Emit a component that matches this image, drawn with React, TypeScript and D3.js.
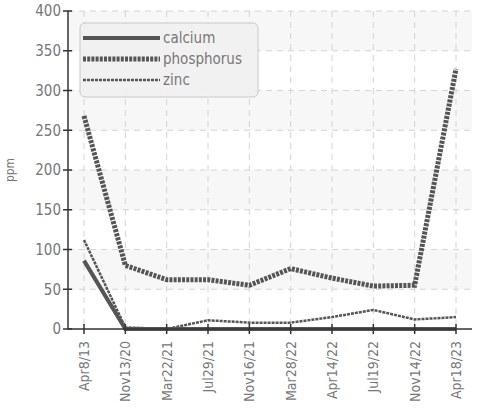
import * as d3 from "d3";
import {useEffect, useRef} from "react";

const dates = ["Apr8/13", "Nov13/20", "Mar22/21", "Jul29/21", "Nov16/21", "Mar28/22", "Apr14/22", "Jul19/22", "Nov14/22", "Apr18/23"];
const calcium = [86, 0, 0, 0, 0, 0, 0, 0, 0, 0];
const phosphorus = [268, 80, 62, 62, 55, 76, 64, 54, 55, 327];
const zinc = [112, 2, 0, 11, 8, 8, 15, 24, 12, 15];
const yTicks = [0, 50, 100, 150, 200, 250, 300, 350, 400];

const series = [
    {name: "calcium", values: calcium, width: 4, dash: "none"},
    {name: "phosphorus", values: phosphorus, width: 5, dash: "3,1.2"},
    {name: "zinc", values: zinc, width: 2.5, dash: "3,1"},
];

const FONT = "'Liberation Sans Narrow', 'DejaVu Sans Condensed', 'Roboto', sans-serif";

export default function App() {
    const ref = useRef<SVGSVGElement>(null);

    useEffect(() => {
        const svg = d3.select(ref.current).html("");
        const left = 68, right = 472, top = 11, bottom = 329;

        const x = d3.scalePoint().domain(dates).range([84, 456]);
        const y = d3.scaleLinear().domain([0, 400]).range([bottom, top]);

        // alternating bands
        for (let i = 0; i < yTicks.length - 1; i++) {
            if (i % 2 === 1) {
                svg.append("rect")
                    .attr("x", left).attr("width", right - left)
                    .attr("y", y(yTicks[i + 1])).attr("height", y(yTicks[i]) - y(yTicks[i + 1]))
                    .attr("fill", "#f7f7f7");
            }
        }

        // grid
        svg.append("g").selectAll("line.h").data(yTicks.slice(1)).join("line")
            .attr("x1", left).attr("x2", right)
            .attr("y1", d => y(d)).attr("y2", d => y(d))
            .attr("stroke", "#d4d4d4").attr("stroke-dasharray", "6,5");
        svg.append("g").selectAll("line.v").data(dates).join("line")
            .attr("x1", d => x(d)!).attr("x2", d => x(d)!)
            .attr("y1", top).attr("y2", bottom)
            .attr("stroke", "#d4d4d4").attr("stroke-dasharray", "6,5");

        // lines
        const line = d3.line<number>()
            .x((_, i) => x(dates[i])!)
            .y(d => y(d));
        series.forEach(s => {
            svg.append("path")
                .attr("d", line(s.values))
                .attr("fill", "none")
                .attr("stroke", "#555")
                .attr("stroke-width", s.width)
                .attr("stroke-dasharray", s.dash);
        });

        // axes
        svg.append("line").attr("x1", left).attr("x2", left).attr("y1", top).attr("y2", bottom)
            .attr("stroke", "#333").attr("stroke-width", 1.5);
        svg.append("line").attr("x1", left).attr("x2", right).attr("y1", bottom).attr("y2", bottom)
            .attr("stroke", "#333").attr("stroke-width", 1.5);

        svg.append("g").selectAll("line").data(yTicks).join("line")
            .attr("x1", left - 5).attr("x2", left + 4)
            .attr("y1", d => y(d)).attr("y2", d => y(d))
            .attr("stroke", "#333").attr("stroke-width", 1.5);
        svg.append("g").selectAll("text").data(yTicks).join("text")
            .attr("x", left - 7).attr("y", d => y(d))
            .attr("dy", "0.36em").attr("text-anchor", "end")
            .attr("font-family", FONT).attr("font-size", 15).attr("fill", "#777")
            .text(d => d);

        svg.append("g").selectAll("line").data(dates).join("line")
            .attr("x1", d => x(d)!).attr("x2", d => x(d)!)
            .attr("y1", bottom - 5).attr("y2", bottom + 5)
            .attr("stroke", "#333").attr("stroke-width", 1.5);
        svg.append("g").selectAll("text").data(dates).join("text")
            .attr("transform", d => `translate(${x(d)! + 5},${bottom + 12}) rotate(-90)`)
            .attr("text-anchor", "end")
            .attr("font-family", FONT).attr("font-size", 14).attr("fill", "#777")
            .text(d => d);

        svg.append("text")
            .attr("transform", `translate(14,${(top + bottom) / 2}) rotate(-90)`)
            .attr("text-anchor", "middle")
            .attr("font-family", FONT).attr("font-size", 12).attr("fill", "#777")
            .text("ppm");

        // legend
        const lg = svg.append("g");
        lg.append("rect")
            .attr("x", 80).attr("y", 23).attr("width", 178).attr("height", 74)
            .attr("rx", 5).attr("fill", "#f0f0f0").attr("fill-opacity", 0.95)
            .attr("stroke", "#c8c8c8");
        series.forEach((s, i) => {
            const yy = 38 + i * 21;
            lg.append("line")
                .attr("x1", 83).attr("x2", 160).attr("y1", yy).attr("y2", yy)
                .attr("stroke", "#555").attr("stroke-width", s.width)
                .attr("stroke-dasharray", s.dash);
            lg.append("text")
                .attr("x", 163).attr("y", yy).attr("dy", "0.36em")
                .attr("font-family", FONT).attr("font-size", 15).attr("fill", "#777")
                .text(s.name);
        });
    }, []);

    return (
        <svg ref={ref} width={478} height={409}
             style={{position: "fixed", left: 0, top: 0, background: "#fff"}}/>
    );
}
